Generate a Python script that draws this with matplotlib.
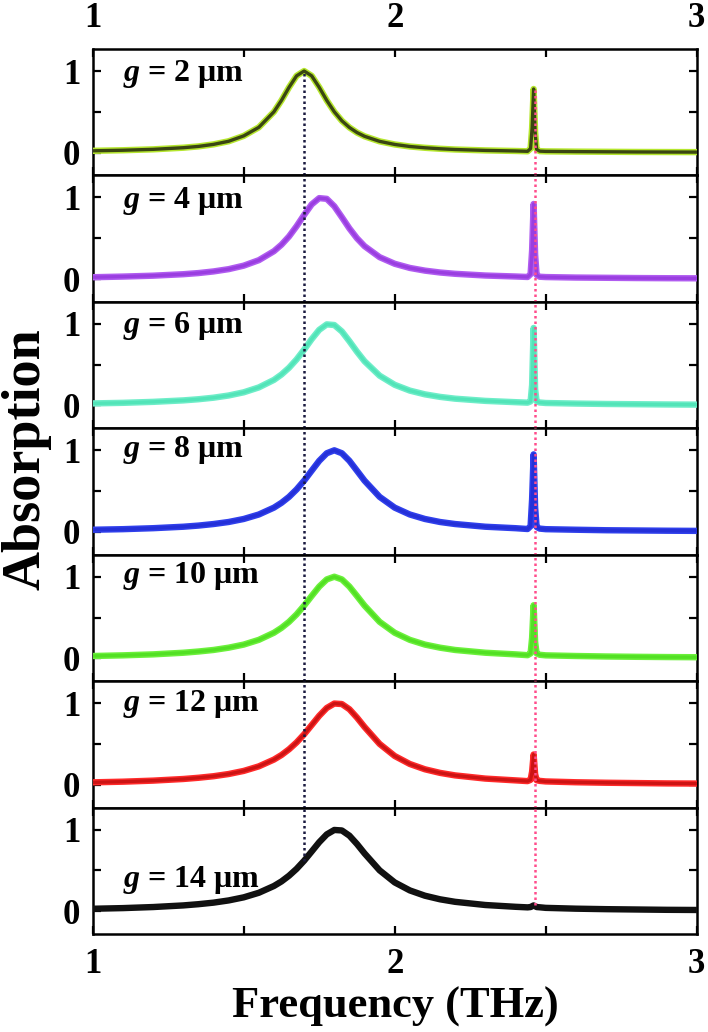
import numpy as np
import matplotlib
matplotlib.use("Agg")
import matplotlib.pyplot as plt

# frequency grid (THz), dense around the broad peak and the sharp mode
freq = [1.00, 1.10, 1.20, 1.30, 1.35, 1.40, 1.45, 1.50, 1.55, 1.60,
        1.625, 1.65, 1.675, 1.70, 1.725, 1.75, 1.775, 1.80, 1.825, 1.85,
        1.875, 1.90, 1.95, 2.00, 2.05, 2.10, 2.15, 2.20, 2.30, 2.40,
        2.44, 2.45, 2.455, 2.46, 2.465, 2.47, 2.48,
        2.50, 2.60, 2.70, 2.80, 2.90, 3.00]

# absorption
g2 = [0.022, 0.029, 0.040, 0.060, 0.076, 0.101, 0.139, 0.205, 0.310, 0.500,
      0.640, 0.800, 0.941, 1.000, 0.941, 0.800, 0.640, 0.500, 0.390, 0.308,
      0.246, 0.200, 0.138, 0.100, 0.075, 0.059, 0.047, 0.038, 0.027, 0.020,
      0.016, 0.050, 0.300, 0.780, 0.250, 0.040, 0.018,
      0.015, 0.012, 0.010, 0.008, 0.007, 0.006]
g4 = [0.022, 0.030, 0.041, 0.059, 0.073, 0.093, 0.121, 0.164, 0.231, 0.341,
      0.421, 0.522, 0.647, 0.786, 0.915, 0.992, 0.983, 0.892, 0.758, 0.620,
      0.500, 0.403, 0.268, 0.187, 0.136, 0.103, 0.080, 0.064, 0.043, 0.031,
      0.025, 0.060, 0.350, 0.920, 0.300, 0.050, 0.028,
      0.024, 0.018, 0.015, 0.012, 0.010, 0.009]
g6 = [0.025, 0.032, 0.044, 0.062, 0.076, 0.095, 0.122, 0.161, 0.221, 0.313,
      0.379, 0.462, 0.564, 0.684, 0.813, 0.927, 0.994, 0.986, 0.907, 0.787,
      0.659, 0.542, 0.365, 0.253, 0.182, 0.136, 0.105, 0.083, 0.056, 0.040,
      0.034, 0.050, 0.250, 0.950, 0.200, 0.050, 0.036,
      0.030, 0.023, 0.018, 0.015, 0.012, 0.010]
g8 = [0.026, 0.033, 0.045, 0.063, 0.077, 0.096, 0.121, 0.158, 0.213, 0.297,
      0.356, 0.429, 0.520, 0.628, 0.750, 0.871, 0.964, 1.000, 0.964, 0.871,
      0.750, 0.628, 0.429, 0.297, 0.213, 0.158, 0.121, 0.096, 0.063, 0.045,
      0.035, 0.070, 0.400, 0.950, 0.300, 0.060, 0.040,
      0.033, 0.026, 0.020, 0.017, 0.014, 0.012]
g10 = [0.028, 0.036, 0.048, 0.068, 0.083, 0.102, 0.130, 0.168, 0.226, 0.313,
       0.373, 0.447, 0.538, 0.646, 0.764, 0.879, 0.967, 1.000, 0.967, 0.879,
       0.764, 0.646, 0.447, 0.313, 0.226, 0.168, 0.130, 0.102, 0.068, 0.048,
       0.038, 0.060, 0.250, 0.650, 0.200, 0.060, 0.043,
       0.036, 0.028, 0.022, 0.018, 0.015, 0.013]
g12 = [0.029, 0.037, 0.050, 0.070, 0.085, 0.104, 0.131, 0.169, 0.225, 0.308,
       0.364, 0.434, 0.518, 0.618, 0.731, 0.845, 0.941, 0.995, 0.989, 0.925,
       0.823, 0.708, 0.500, 0.352, 0.254, 0.189, 0.145, 0.114, 0.075, 0.053,
       0.044, 0.060, 0.160, 0.370, 0.130, 0.055, 0.047,
       0.040, 0.030, 0.024, 0.020, 0.016, 0.014]
g14 = [0.029, 0.037, 0.050, 0.070, 0.085, 0.104, 0.131, 0.169, 0.225, 0.308,
       0.364, 0.434, 0.518, 0.618, 0.731, 0.845, 0.941, 0.995, 0.989, 0.925,
       0.823, 0.708, 0.500, 0.352, 0.254, 0.189, 0.145, 0.114, 0.075, 0.053,
       0.046, 0.050, 0.060, 0.070, 0.060, 0.050, 0.047,
       0.040, 0.030, 0.024, 0.020, 0.016, 0.014]

gaps = [2, 4, 6, 8, 10, 12, 14]
curves = [g2, g4, g6, g8, g10, g12, g14]
outer_colors = ["#b5e62e", "#b05cf0", "#6eedc8", "#3040ec", "#6cf03c", "#ff2a2a", "#111111"]
inner_colors = ["#3a4612", "#9a3ee0", "#52e4b8", "#2430d8", "#52e024", "#cc1414", "#111111"]
label_y = [0.80, 0.80, 0.81, 0.83, 0.83, 0.82, 0.43]

broad_mark = 1.70
sharp_mark = 2.465

plt.rcParams["font.family"] = ["Liberation Serif", "DejaVu Serif"]
plt.rcParams["font.weight"] = "bold"
plt.rcParams["mathtext.fontset"] = "custom"
plt.rcParams["mathtext.it"] = "Liberation Serif:italic:bold"
plt.rcParams["mathtext.rm"] = "Liberation Serif:bold"

fig, axes = plt.subplots(7, 1, figsize=(7.08, 10.32), dpi=100, sharex=True)
fig.subplots_adjust(left=0.131, right=0.984, top=0.9525, bottom=0.095, hspace=0)

ylo, yhi = -0.28, 1.27
fx = np.array(freq)

for i, ax in enumerate(axes):
    y = np.array(curves[i])
    ax.plot(fx, y, color=outer_colors[i], lw=4.6, solid_joinstyle="round", zorder=3)
    ax.plot(fx, y, color=inner_colors[i], lw=2.4, solid_joinstyle="round", zorder=4)

    # dotted guide lines running through all panels
    b_top, b_bot = yhi, ylo
    s_top, s_bot = yhi, ylo
    if i == 0:
        b_top = np.interp(broad_mark, fx, y)
        s_top = y[np.abs(fx - sharp_mark) < 0.01].max()
    if i == len(axes) - 1:
        b_bot = np.interp(broad_mark, fx, y)
        s_bot = y[np.abs(fx - sharp_mark) < 0.01].max()
    ax.plot([broad_mark, broad_mark], [b_bot, b_top], color="#1a1a40",
            lw=1.8, linestyle=(0, (1, 1.2)), zorder=5)
    ax.plot([sharp_mark, sharp_mark], [s_bot, s_top], color="#ff4d8c",
            lw=1.8, linestyle=(0, (1, 1.2)), zorder=5)

    ax.set_xlim(1, 3)
    ax.set_ylim(ylo, yhi)
    ax.set_xticks([1, 2, 3])
    ax.set_xticks([1.5, 2.5], minor=True)
    ax.set_yticks([0, 1])
    ax.set_yticks([0.5], minor=True)
    ax.tick_params(which="both", direction="in", top=True, right=True,
                   length=6, width=1.6, labelsize=25)
    ax.tick_params(axis="y", pad=9)
    ax.tick_params(axis="x", pad=10, labeltop=(i == 0), labelbottom=(i == len(axes) - 1))
    for sp in ax.spines.values():
        sp.set_linewidth(1.8)

    ax.text(0.05, label_y[i], r"$g$ = %d μm" % gaps[i], transform=ax.transAxes,
            fontsize=23, fontweight="bold", va="center", ha="left", zorder=6)

fig.text(0.038, 0.555, "Absorption", rotation=90, fontsize=39,
         fontweight="bold", ha="center", va="center")
fig.text(0.558, 0.024, "Frequency (THz)", fontsize=32,
         fontweight="bold", ha="center", va="center")

fig.savefig("out.png", dpi=100)
